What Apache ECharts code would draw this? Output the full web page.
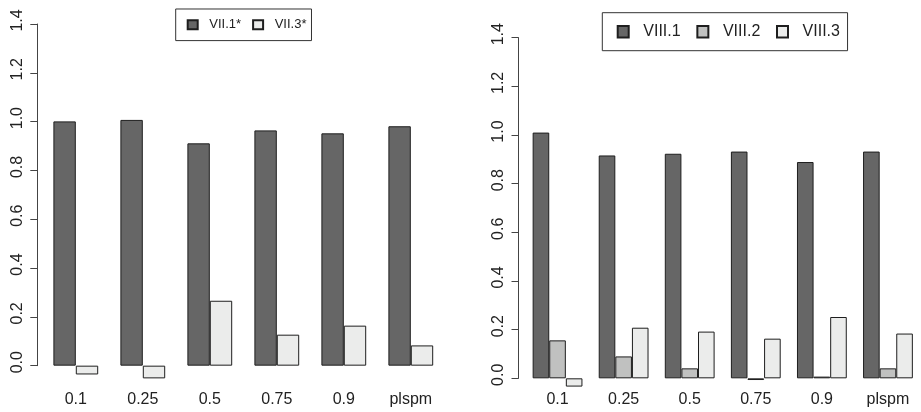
<!DOCTYPE html>
<html>
<head>
<meta charset="utf-8">
<script src="https://cdn.jsdelivr.net/npm/echarts@6/dist/echarts.min.js"></script>
<style>
html,body{margin:0;padding:0;background:#fff;}
#chart{width:921px;height:412px;}
</style>
</head>
<body>
<div id="chart"></div>
<script>
const categories = ['0.1', '0.25', '0.5', '0.75', '0.9', 'plspm'];
const leftNames = ['VII.1*', 'VII.3*'];
const vii1 = [1.001, 1.007, 0.911, 0.964, 0.952, 0.981];
const vii3 = [-0.036, -0.052, 0.266, 0.127, 0.164, 0.083];
const rightNames = ['VIII.1', 'VIII.2', 'VIII.3'];
const viii1 = [1.010, 0.916, 0.923, 0.932, 0.889, 0.932];
const viii2 = [0.156, 0.090, 0.041, -0.007, 0.007, 0.041];
const viii3 = [-0.034, 0.208, 0.192, 0.163, 0.252, 0.184];
const yMin = 0, yMax = 1.4, yStep = 0.2;

const DARK = '#666666', MID = '#c0c1c0', LIGHT = '#ebeceb', EDGE = '#1e1e1e';
const FONT = '"Liberation Sans", Arial, Helvetica, sans-serif';
const TXT = '#222222';

const chart = echarts.init(document.getElementById('chart'), null, {renderer: 'canvas'});

function barSeries(name, data, color, gridIdx, width) {
  return {
    type: 'bar', name: name, data: data,
    xAxisIndex: gridIdx, yAxisIndex: gridIdx,
    barWidth: width, barGap: '0%',
    itemStyle: {color: color, borderColor: EDGE, borderWidth: 1},
    emphasis: {disabled: true},
    animation: false
  };
}

// grid 0: left bars, grid 1: left axis, grid 2: right bars, grid 3: right axis
const L = {left: 42.3, width: 402, top: 24, unit: 244.05};
const R = {left: 524.5, width: 397.2, top: 37.7, unit: 243.3};

const valueAxisVisible = (gridIndex, offset) => ({
  type: 'value', gridIndex: gridIndex, min: yMin, max: yMax, interval: yStep,
  offset: offset,
  axisLine: {show: true, lineStyle: {color: '#444', width: 1}},
  axisTick: {show: true, length: 7, lineStyle: {color: '#444', width: 1}},
  splitLine: {show: false},
  axisLabel: {
    rotate: 90, margin: 12, fontSize: 16, fontFamily: FONT, color: TXT,
    padding: [0, 0, 0, 7],
    formatter: v => v.toFixed(1)
  }
});

const option = {
  backgroundColor: '#ffffff',
  animation: false,
  grid: [
    {left: L.left, width: L.width, top: L.top, height: L.unit * (yMax + 0.1)},
    {left: L.left, width: L.width, top: L.top, height: L.unit * yMax},
    {left: R.left, width: R.width, top: R.top, height: R.unit * (yMax + 0.05)},
    {left: R.left, width: R.width, top: R.top, height: R.unit * yMax}
  ],
  xAxis: [
    {type: 'category', gridIndex: 0, data: categories,
     axisLine: {show: false}, axisTick: {show: false},
     axisLabel: {margin: 2, fontSize: 16, fontFamily: FONT, color: TXT, interval: 0}},
    {type: 'category', gridIndex: 1, data: categories, show: false},
    {type: 'category', gridIndex: 2, data: categories,
     axisLine: {show: false}, axisTick: {show: false},
     axisLabel: {margin: 1.5, fontSize: 16, fontFamily: FONT, color: TXT, interval: 0}},
    {type: 'category', gridIndex: 3, data: categories, show: false}
  ],
  yAxis: [
    {type: 'value', gridIndex: 0, min: -0.1, max: yMax, show: false},
    valueAxisVisible(1, 5),
    {type: 'value', gridIndex: 2, min: -0.05, max: yMax, show: false},
    valueAxisVisible(3, 6)
  ],
  legend: [
    {
      data: leftNames, left: 175.7, top: 9,
      orient: 'horizontal',
      itemWidth: 10, itemHeight: 9, itemGap: 11,
      borderColor: '#333', borderWidth: 1, borderRadius: 0,
      padding: [8.8, 5, 8.8, 11],
      icon: 'rect',
      selectedMode: false,
      textStyle: {fontSize: 13, fontFamily: FONT, color: TXT, lineHeight: 14, padding: [0, 0, 0, 6.6]}
    },
    {
      data: rightNames, left: 602.3, top: 12.7,
      orient: 'horizontal',
      itemWidth: 11, itemHeight: 11.5, itemGap: 15.7,
      borderColor: '#333', borderWidth: 1, borderRadius: 0,
      padding: [10, 7.6, 10, 14.4],
      icon: 'rect',
      selectedMode: false,
      textStyle: {fontSize: 16, fontFamily: FONT, color: TXT, lineHeight: 18, padding: [0, 0, 0, 9.6]}
    }
  ],
  series: [
    barSeries(leftNames[0], vii1, DARK, 0, 22.4),
    barSeries(leftNames[1], vii3, LIGHT, 0, 22.4),
    barSeries(rightNames[0], viii1, DARK, 2, 16.6),
    barSeries(rightNames[1], viii2, MID, 2, 16.6),
    barSeries(rightNames[2], viii3, LIGHT, 2, 16.6)
  ]
};
chart.setOption(option);
</script>
</body>
</html>
